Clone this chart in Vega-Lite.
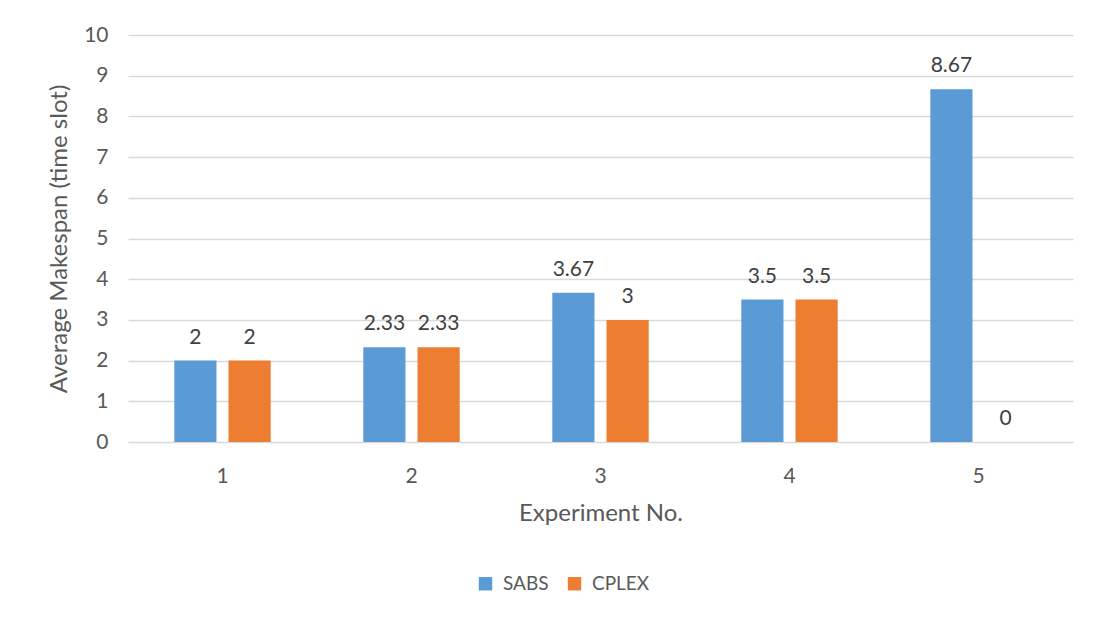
{
  "$schema": "https://vega.github.io/schema/vega-lite/v6.json",
  "width": 945,
  "height": 407,
  "autosize": {"type": "none"},
  "padding": {"left": 128, "top": 35, "right": 25, "bottom": 176},
  "background": "white",
  "config": {
    "font": "Lato",
    "view": {"stroke": null},
    "axis": {
      "labelColor": "#595959",
      "titleColor": "#595959",
      "labelFontSize": 21,
      "titleFontSize": 24,
      "titleFontWeight": "normal",
      "labelFont": "Lato",
      "titleFont": "Lato",
      "labelOverlap": false
    },
    "legend": {"labelColor": "#595959", "labelFontSize": 19, "labelFont": "Lato"}
  },
  "data": {
    "values": [
      {"experiment": "1", "method": "SABS", "makespan": 2},
      {"experiment": "1", "method": "CPLEX", "makespan": 2},
      {"experiment": "2", "method": "SABS", "makespan": 2.33},
      {"experiment": "2", "method": "CPLEX", "makespan": 2.33},
      {"experiment": "3", "method": "SABS", "makespan": 3.67},
      {"experiment": "3", "method": "CPLEX", "makespan": 3},
      {"experiment": "4", "method": "SABS", "makespan": 3.5},
      {"experiment": "4", "method": "CPLEX", "makespan": 3.5},
      {"experiment": "5", "method": "SABS", "makespan": 8.67},
      {"experiment": "5", "method": "CPLEX", "makespan": 0}
    ]
  },
  "encoding": {
    "x": {
      "field": "experiment",
      "type": "nominal",
      "scale": {"paddingInner": 0.49, "paddingOuter": 0.245},
      "axis": {
        "title": "Experiment No.",
        "labelAngle": 0,
        "ticks": false,
        "domain": false,
        "labelPadding": 23,
        "titlePadding": 15
      }
    },
    "xOffset": {
      "field": "method",
      "type": "nominal",
      "sort": ["SABS", "CPLEX"],
      "scale": {"paddingInner": 0.222, "paddingOuter": 0}
    },
    "y": {
      "field": "makespan",
      "type": "quantitative",
      "scale": {"domain": [0, 10]},
      "axis": {
        "title": "Average Makespan (time slot)",
        "values": [0, 1, 2, 3, 4, 5, 6, 7, 8, 9, 10],
        "ticks": false,
        "domain": false,
        "gridColor": "#d9d9d9",
        "gridWidth": 1.5,
        "labelPadding": 20,
        "titlePadding": 12
      }
    }
  },
  "layer": [
    {
      "mark": {"type": "bar"},
      "encoding": {
        "color": {
          "field": "method",
          "type": "nominal",
          "sort": ["SABS", "CPLEX"],
          "scale": {"domain": ["SABS", "CPLEX"], "range": ["#5b9bd5", "#ed7d31"]},
          "legend": {
            "title": null,
            "orient": "none",
            "direction": "horizontal",
            "legendX": 348,
            "legendY": 539,
            "symbolType": "square",
            "symbolSize": 180,
            "symbolStrokeWidth": 0,
            "columnPadding": 16,
            "labelOffset": 8
          }
        }
      }
    },
    {
      "mark": {"type": "text", "baseline": "bottom", "dy": -13, "fontSize": 21, "color": "#404040", "font": "Lato"},
      "encoding": {
        "text": {"field": "makespan", "type": "quantitative", "format": ".3~f"}
      }
    }
  ]
}
